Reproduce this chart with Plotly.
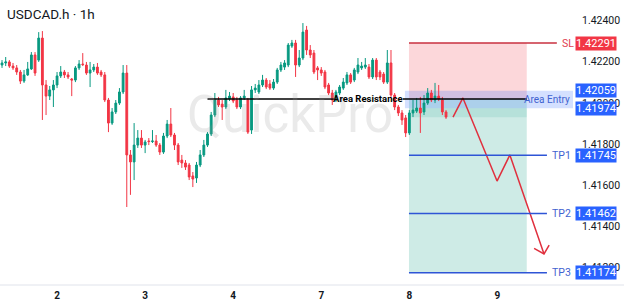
import plotly.graph_objects as go

# ---------------- data ----------------
opens = [1.42184,1.42194,1.42199,1.42179,1.42170,1.42150,1.42106,1.42136,1.42165,1.42233,
         1.42208,1.42315,1.42087,1.42033,1.42063,1.42087,1.42131,1.42150,1.42136,1.42116,
         1.42111,1.42170,1.42189,1.42184,1.42145,1.42160,1.42174,1.42150,1.42136,1.42014,
         1.41902,1.41956,1.41999,1.42053,1.42145,1.41747,1.41713,1.41795,1.41829,1.41795,
         1.41815,1.41812,1.41815,1.41795,1.41761,1.41839,1.41897,1.41844,1.41795,1.41722,
         1.41708,1.41698,1.41645,1.41635,1.41698,1.41747,1.41795,1.41849,1.41941,1.42014,
         1.41994,1.41980,1.42019,1.42029,1.42014,1.41980,1.42024,1.42014,1.41868,1.42063,
         1.42053,1.42087,1.42111,1.42092,1.42072,1.42101,1.42160,1.42174,1.42184,1.42276,
         1.42291,1.42184,1.42218,1.42354,1.42257,1.42242,1.42170,1.42160,1.42150,1.42087,
         1.42048,1.42014,1.42048,1.42072,1.42097,1.42136,1.42111,1.42150,1.42170,1.42174,
         1.42174,1.42126,1.42208,1.42150,1.42140,1.42101,1.42194,1.42038,1.41980,1.41951,
         1.41927,1.41854,1.41951,1.41960,1.41975,1.41956,1.41999,1.42048,1.42014,1.42033,
         1.42014,1.41956]
highs = [1.42208,1.42223,1.42208,1.42194,1.42184,1.42160,1.42160,1.42199,1.42247,1.42247,
         1.42344,1.42349,1.42111,1.42082,1.42111,1.42150,1.42179,1.42160,1.42150,1.42121,
         1.42179,1.42208,1.42242,1.42199,1.42199,1.42189,1.42194,1.42160,1.42150,1.42024,
         1.41975,1.42014,1.42072,1.42184,1.42184,1.41771,1.41902,1.41868,1.41868,1.41820,
         1.41829,1.41868,1.41844,1.41805,1.41854,1.41917,1.41975,1.41854,1.41805,1.41747,
         1.41722,1.41708,1.41664,1.41713,1.41771,1.41820,1.41858,1.41956,1.42048,1.42029,
         1.42014,1.42063,1.42053,1.42048,1.42029,1.42033,1.42063,1.42024,1.42082,1.42092,
         1.42111,1.42136,1.42121,1.42111,1.42116,1.42170,1.42199,1.42208,1.42291,1.42306,
         1.42306,1.42257,1.42388,1.42374,1.42281,1.42257,1.42179,1.42174,1.42160,1.42097,
         1.42063,1.42063,1.42087,1.42121,1.42150,1.42145,1.42170,1.42218,1.42199,1.42218,
         1.42189,1.42218,1.42218,1.42160,1.42150,1.42257,1.42257,1.42048,1.41990,1.41965,
         1.41941,1.41965,1.42014,1.42024,1.42029,1.42038,1.42072,1.42063,1.42097,1.42087,
         1.42029,1.41965]
lows = [1.42170,1.42179,1.42170,1.42160,1.42136,1.42092,1.42097,1.42131,1.42160,1.42131,
        1.42199,1.41917,1.41941,1.42014,1.41980,1.42072,1.42121,1.42121,1.42116,1.42033,
        1.42101,1.42160,1.42179,1.42136,1.42077,1.42150,1.42136,1.42126,1.42004,1.41858,
        1.41893,1.41946,1.41990,1.42043,1.41494,1.41553,1.41625,1.41781,1.41781,1.41756,
        1.41795,1.41805,1.41786,1.41747,1.41752,1.41829,1.41834,1.41771,1.41698,1.41684,
        1.41674,1.41625,1.41591,1.41611,1.41688,1.41737,1.41786,1.41839,1.41931,1.41980,
        1.41917,1.41970,1.42009,1.41999,1.41970,1.41970,1.42014,1.41849,1.41849,1.42048,
        1.42043,1.42077,1.42067,1.42063,1.42063,1.42092,1.42150,1.42160,1.42174,1.42267,
        1.42126,1.42174,1.42208,1.42233,1.42218,1.42140,1.42111,1.42131,1.42067,1.42038,
        1.41990,1.42004,1.42038,1.42063,1.42087,1.42092,1.42101,1.42140,1.42160,1.42165,
        1.42116,1.42116,1.42111,1.42111,1.42092,1.42092,1.42029,1.41965,1.41936,1.41893,
        1.41834,1.41844,1.41931,1.41951,1.41854,1.41941,1.41990,1.42004,1.41999,1.42009,
        1.41941,1.41922]
closes = [1.42194,1.42199,1.42179,1.42170,1.42150,1.42106,1.42136,1.42165,1.42233,1.42145,
          1.42315,1.42087,1.42033,1.42063,1.42087,1.42131,1.42150,1.42136,1.42126,1.42111,
          1.42170,1.42189,1.42186,1.42145,1.42160,1.42174,1.42145,1.42136,1.42014,1.41902,
          1.41956,1.41999,1.42053,1.42145,1.41747,1.41713,1.41795,1.41829,1.41795,1.41810,
          1.41812,1.41815,1.41795,1.41761,1.41839,1.41897,1.41844,1.41795,1.41713,1.41708,
          1.41688,1.41640,1.41630,1.41698,1.41747,1.41795,1.41849,1.41941,1.42014,1.41990,
          1.41980,1.42024,1.42033,1.42009,1.41980,1.42024,1.42033,1.41858,1.42063,1.42072,
          1.42087,1.42111,1.42077,1.42072,1.42101,1.42160,1.42184,1.42194,1.42281,1.42291,
          1.42184,1.42218,1.42344,1.42257,1.42233,1.42150,1.42160,1.42145,1.42077,1.42048,
          1.42014,1.42053,1.42077,1.42101,1.42136,1.42101,1.42160,1.42184,1.42179,1.42184,
          1.42126,1.42208,1.42126,1.42126,1.42101,1.42194,1.42038,1.41980,1.41951,1.41917,
          1.41854,1.41951,1.41965,1.41975,1.41951,1.41999,1.42048,1.42014,1.42033,1.42019,
          1.41956,1.41931]
bar_index = list(range(len(closes)))

day_positions = [15, 39, 63, 87, 111, 135]
day_labels = ["2", "3", "4", "7", "8", "9"]

price_ticks = [1.424, 1.422, 1.420, 1.418, 1.416, 1.414, 1.412]

sl_price = 1.42291
entry_top = 1.42059
entry_bottom = 1.41974
entry_price = 1.42019
tp_prices = [1.41745, 1.41462, 1.41174]
tp_names = ["TP1", "TP2", "TP3"]

resistance_price = 1.42019
resistance_segments = [(56, 90.4), (109.2, 143)]
position_start, position_end = 110.9, 143.0
entry_box_start = 109.8
sl_line_end = 151.2
tp_line_end = 148.5

arrow_x = [122.9, 125.6, 134.9, 138.4, 147.7]
arrow_y = [1.41931, 1.42024, 1.41620, 1.41747, 1.41266]
arrow_head_x = [145.0, 147.7, 149.1]
arrow_head_y = [1.41293, 1.41266, 1.41309]

X_RANGE = [-0.55, 155.6]
Y_RANGE = [1.41115, 1.42500]

GREEN = "#089981"
RED = "#f23645"
BLUE = "#2962ff"
LINE_BLUE = "#2e55d6"
TEXT = "#131722"
FONT = "Roboto"

fig = go.Figure()

fig.add_trace(go.Candlestick(
    x=bar_index, open=opens, high=highs, low=lows, close=closes,
    increasing=dict(line=dict(color=GREEN, width=1), fillcolor=GREEN),
    decreasing=dict(line=dict(color=RED, width=1), fillcolor=RED),
    whiskerwidth=0, showlegend=False, hoverinfo="skip"))

shapes = []
shapes.append(dict(type="rect", xref="x", yref="y", x0=position_start, x1=position_end,
                   y0=entry_price, y1=sl_price, fillcolor="rgba(242,54,69,0.2)",
                   line=dict(width=0), layer="below"))
shapes.append(dict(type="rect", xref="x", yref="y", x0=position_start, x1=position_end,
                   y0=tp_prices[2], y1=entry_price, fillcolor="rgba(8,153,129,0.2)",
                   line=dict(width=0), layer="below"))
shapes.append(dict(type="rect", xref="x", yref="y", x0=position_start, x1=position_end,
                   y0=1.41930, y1=entry_bottom, fillcolor="rgba(8,153,129,0.12)",
                   line=dict(width=0), layer="below"))
shapes.append(dict(type="rect", xref="x", yref="y", x0=entry_box_start, x1=X_RANGE[1],
                   y0=entry_bottom, y1=entry_top, fillcolor="rgba(41,98,255,0.2)",
                   line=dict(width=0), layer="below"))
shapes.append(dict(type="line", xref="x", yref="y", x0=position_start, x1=sl_line_end,
                   y0=sl_price, y1=sl_price, line=dict(color="#c9303f", width=1.5)))
for tp in tp_prices:
    shapes.append(dict(type="line", xref="x", yref="y", x0=position_start, x1=tp_line_end,
                       y0=tp, y1=tp, line=dict(color=LINE_BLUE, width=1.5)))
for a, b in resistance_segments:
    shapes.append(dict(type="line", xref="x", yref="y", x0=a, x1=b,
                       y0=resistance_price, y1=resistance_price,
                       line=dict(color="#000000", width=1.5)))
shapes.append(dict(type="line", xref="paper", yref="paper", x0=0, x1=1.1, y0=0, y1=0,
                   line=dict(color="#e0e3eb", width=1)))

fig.add_trace(go.Scatter(x=arrow_x, y=arrow_y, mode="lines",
                         line=dict(color="#e0303e", width=1.5),
                         showlegend=False, hoverinfo="skip"))
fig.add_trace(go.Scatter(x=arrow_head_x, y=arrow_head_y, mode="lines",
                         line=dict(color="#e0303e", width=1.5),
                         showlegend=False, hoverinfo="skip"))

ann = []
ann.append(dict(text="QuickPro", x=78.5, y=1.41946, xref="x", yref="y",
                showarrow=False, font=dict(family=FONT, size=51, color="rgba(150,150,150,0.2)")))
ann.append(dict(text="USDCAD.h · 1h", x=0, y=1, xref="paper", yref="paper",
                xanchor="left", yanchor="top", xshift=5, yshift=-4, showarrow=False,
                font=dict(family=FONT, size=13.5, color=TEXT)))
ann.append(dict(text="<b>Area Resistance</b>", x=99.6, y=resistance_price, xref="x", yref="y",
                showarrow=False, font=dict(family=FONT, size=9.5, color="#000000")))
ann.append(dict(text="Area Entry", x=1, y=(entry_top + entry_bottom) / 2, xref="paper", yref="y",
                xanchor="right", xshift=-1, showarrow=False,
                font=dict(family=FONT, size=10, color="#3f63d0")))
ann.append(dict(text="SL", x=sl_line_end, y=sl_price, xref="x", yref="y", xanchor="left",
                xshift=3, showarrow=False, font=dict(family=FONT, size=10.5, color="#e04050")))
for tp, name in zip(tp_prices, tp_names):
    ann.append(dict(text=name, x=tp_line_end, y=tp, xref="x", yref="y", xanchor="left",
                    xshift=3, showarrow=False, font=dict(family=FONT, size=10.5, color="#3f63d0")))

def price_box(price, color):
    return dict(text=f"{price:.5f}", x=1, y=price, xref="paper", yref="y", xanchor="left",
                xshift=2, showarrow=False, bgcolor=color, borderpad=0,
                font=dict(family=FONT, size=11, color="#ffffff"))

ann.append(price_box(sl_price, RED))
ann.append(price_box(entry_top, BLUE))
ann.append(price_box(entry_bottom, BLUE))
for tp in tp_prices:
    ann.append(price_box(tp, BLUE))

fig.update_layout(
    width=624, height=307,
    margin=dict(l=0, r=51, t=0, b=22),
    paper_bgcolor="white", plot_bgcolor="white",
    shapes=shapes, annotations=ann, showlegend=False,
    xaxis=dict(range=X_RANGE, rangeslider=dict(visible=False), showgrid=False,
               zeroline=False, showline=False, tickmode="array",
               tickvals=day_positions, ticktext=day_labels, ticks="",
               ticklabelstandoff=3,
               tickfont=dict(family=FONT, size=10, color=TEXT, weight="bold")),
    yaxis=dict(range=Y_RANGE, side="right", showgrid=False, zeroline=False,
               showline=False, tickmode="array", tickvals=price_ticks,
               ticktext=[f"{p:.5f}" for p in price_ticks], ticks="",
               ticklabelstandoff=8,
               tickfont=dict(family=FONT, size=10.5, color=TEXT)),
)

fig.write_html("out.html")
